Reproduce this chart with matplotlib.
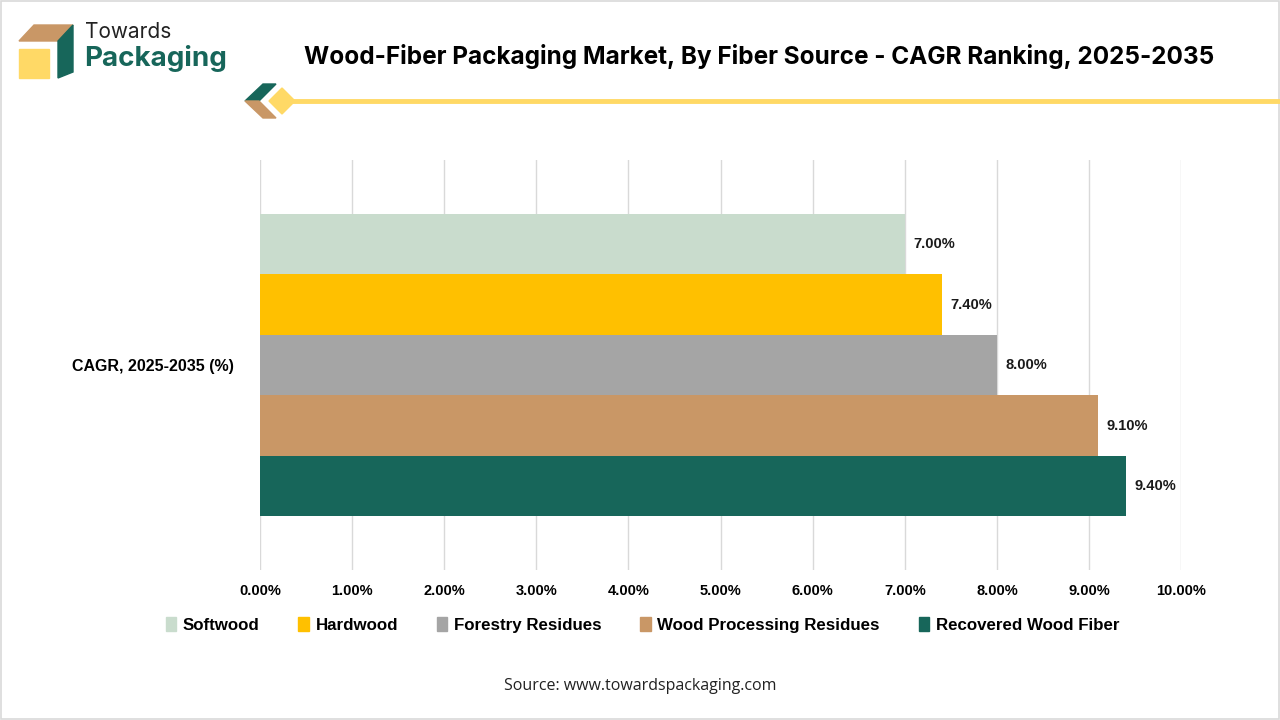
import matplotlib
matplotlib.use('Agg')
import matplotlib.pyplot as plt
from matplotlib.patches import Polygon, Rectangle
from matplotlib.lines import Line2D

# Chart data
sources = ['Softwood', 'Hardwood', 'Forestry Residues', 'Wood Processing Residues', 'Recovered Wood Fiber']
cagr = [7.0, 7.4, 8.0, 9.1, 9.4]
colours = ['#C9DCCD', '#FFC000', '#A5A5A5', '#C99766', '#17665A']
category = 'CAGR, 2025-2035 (%)'
xticks = [0, 1, 2, 3, 4, 5, 6, 7, 8, 9, 10]

arial = ['Liberation Sans', 'DejaVu Sans']

fig = plt.figure(figsize=(12.8, 7.2), dpi=100, facecolor='white')

# outer frame
fig.patches.append(Rectangle((0.001, 0.001), 0.998, 0.997, transform=fig.transFigure,
                             fill=False, edgecolor='#D9D9D9', lw=1.2))

ax = fig.add_axes([0.203, 0.208, 0.72, 0.57])

# bars for one category, top to bottom
ypos = [2, 1, 0, -1, -2]
for y, val, col, name in zip(ypos, cagr, colours, sources):
    ax.barh(y, val, height=1.0, color=col, label=name, zorder=3)
    ax.text(val + 0.09, y, f'{val:.2f}%', va='center', ha='left', fontsize=10.5,
            fontweight='bold', family=arial, color='#1a1a1a')

ax.set_xlim(0, 10)
ax.set_ylim(-3.39, 3.39)
ax.set_xticks(xticks)
ax.set_xticklabels([f'{t:.2f}%' for t in xticks], fontsize=10.5, fontweight='bold', family=arial)
ax.set_yticks([0])
ax.set_yticklabels([category], fontsize=11.5, fontweight='bold', family=arial)
ax.tick_params(axis='x', length=0, pad=10)
ax.tick_params(axis='y', length=0, pad=19)
ax.grid(axis='x', color='#D9D9D9', lw=1, zorder=0)
for s in ax.spines.values():
    s.set_visible(False)

handles = [Rectangle((0, 0), 1, 1, color=c) for c in colours]
leg = fig.legend(handles, sources, loc='center', bbox_to_anchor=(0.502, 0.132), ncol=5, frameon=False,
                 handlelength=0.6, handleheight=0.9, handletextpad=0.4, columnspacing=2.3,
                 prop={'family': arial, 'weight': 'bold', 'size': 12.2})

# title
fig.text(0.593, 0.922, 'Wood-Fiber Packaging Market, By Fiber Source - CAGR Ranking, 2025-2035',
         ha='center', va='center', fontsize=17.5, fontweight='bold', family=['Inter', 'DejaVu Sans'])

# yellow rule with diamonds
fig.lines.append(Line2D([285 / 1280, 1.0], [1 - 101 / 720] * 2, transform=fig.transFigure,
                        color='#FFD966', lw=3.5))
def px(pts):
    return [(x / 1280, 1 - y / 720) for x, y in pts]
fig.patches.append(Polygon(px([(276, 84), (263, 84), (245, 101), (259, 101)]), closed=True,
                           transform=fig.transFigure, color='#17665A'))
fig.patches.append(Polygon(px([(259, 101), (245, 101), (263, 118), (276, 118)]), closed=True,
                           transform=fig.transFigure, color='#C99766'))
fig.patches.append(Polygon(px([(282, 88), (295, 101), (282, 114), (269, 101)]), closed=True,
                           transform=fig.transFigure, color='#FFD966'))

# logo
fig.patches.append(Polygon(px([(19, 41), (34, 25), (73, 25), (58, 41)]), closed=True,
                           transform=fig.transFigure, color='#C99766'))
fig.patches.append(Polygon(px([(58, 41), (73, 25), (73, 72), (58, 78)]), closed=True,
                           transform=fig.transFigure, color='#17665A'))
fig.patches.append(Polygon(px([(19, 49), (49, 49), (49, 78), (19, 78)]), closed=True,
                           transform=fig.transFigure, color='#FFD966'))
fig.text(85 / 1280, 1 - 32 / 720, 'Towards', ha='left', va='center', fontsize=15,
         family=['Inter', 'DejaVu Sans'], color='#222222')
fig.text(84 / 1280, 1 - 58 / 720, 'Packaging', ha='left', va='center', fontsize=20, fontweight='bold',
         family=['Inter', 'DejaVu Sans'], color='#17665A')

fig.text(0.5, 1 - 686 / 720, 'Source: www.towardspackaging.com', ha='center', va='center',
         fontsize=11.5, family=['Open Sans', 'DejaVu Sans'], color='#222222')

plt.savefig('out.png', dpi=100, facecolor='white')
